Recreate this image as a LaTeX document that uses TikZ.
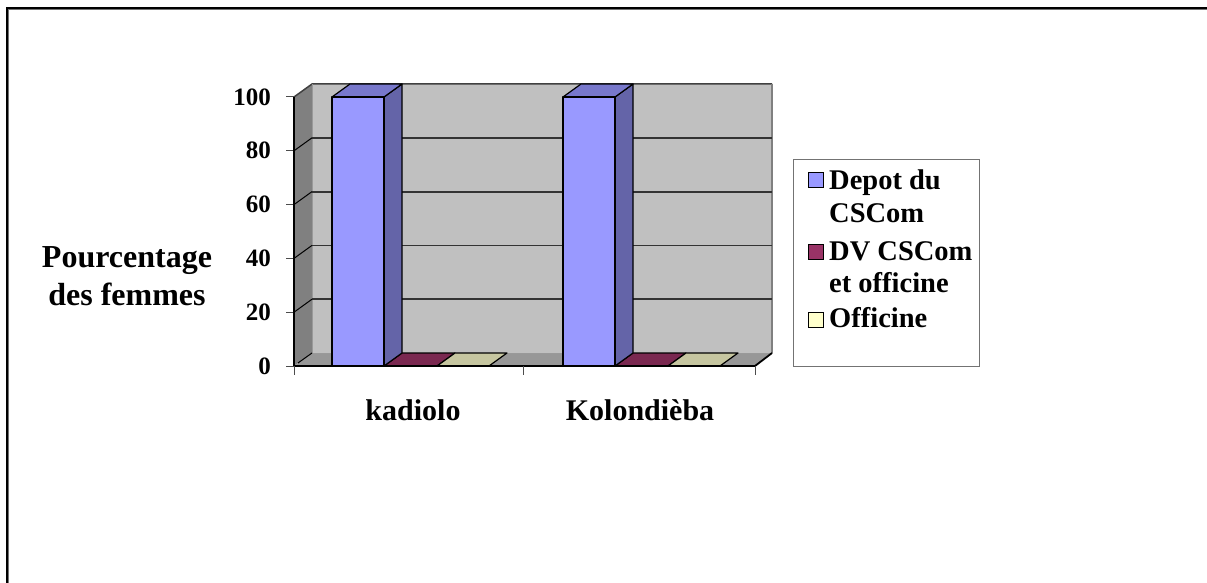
\documentclass[tikz,border=0pt]{standalone}
\usepackage{fontspec}
\setmainfont{Liberation Serif}
\begin{document}
\begin{tikzpicture}[x=1pt,y=-1pt,
  lbl/.style={font=\bfseries\fontsize{25}{28}\selectfont, inner sep=0pt},
  cat/.style={font=\bfseries\fontsize{30}{34}\selectfont, inner sep=0pt, anchor=base},
  ttl/.style={font=\bfseries\fontsize{32}{37}\selectfont, inner sep=0pt, anchor=base},
  leg/.style={font=\bfseries\fontsize{28.5}{33}\selectfont, inner sep=0pt, anchor=base west},
  grid/.style={draw=black!80, line width=1.8pt},
  bar/.style={draw=black, line width=1.2pt, line join=round},
  sq/.style={draw=black, line width=1pt, minimum size=15pt, inner sep=0pt}]
\definecolor{wallc}{HTML}{C0C0C0}
\definecolor{sidec}{HTML}{808080}
\definecolor{floorc}{HTML}{979797}
\definecolor{bfront}{HTML}{9999FF}
\definecolor{bside}{HTML}{6464A8}
\definecolor{btop}{HTML}{7878CC}
\definecolor{dvc}{HTML}{993366}
\definecolor{dvtop}{HTML}{7A2850}
\definecolor{ofc}{HTML}{FFFFCC}
\definecolor{oftop}{HTML}{C6C6A0}
\useasboundingbox (0,0) rectangle (1207,583);
\fill[white] (0,0) rectangle (1207,583);
% outer frame
\draw[line width=1.5pt, black!55] (8.5,600) -- (8.5,9.5) -- (1220,9.5);
\draw[line width=1.2pt, black] (7,600) -- (7,8) -- (1220,8);
% walls
\coordinate (FL0) at (294,366);
\coordinate (FL1) at (294,97);
\coordinate (BL0) at (312,353);
\coordinate (BL1) at (312,84);
\coordinate (BR0) at (772,353);
\coordinate (BR1) at (772,84);
\coordinate (FR0) at (755,366);
\fill[wallc] (BL0) rectangle (BR1);
\fill[sidec] (FL0) -- (FL1) -- (BL1) -- (BL0) -- cycle;
\fill[floorc] (FL0) -- (FR0) -- (BR0) -- (BL0) -- cycle;
\draw[black!75, line width=1.5pt] (FL1) -- (BL1) -- (BR1);
\draw[black!50, line width=1.2pt] (BR1) -- (BR0);
\draw[black!40, line width=1pt] (BL1) -- (BL0) -- (BR0);
% gridlines
\foreach \i in {1,...,4} {
  \pgfmathsetmacro{\yb}{353-\i*53.8}
  \pgfmathsetmacro{\yf}{366-\i*53.8}
  \draw[grid] (312,\yb) -- (772,\yb);
  \draw[black, line width=1pt] (294,\yf) -- (312,\yb);
  \draw[black!70, line width=1pt] (286,\yf) -- (294,\yf);
}
\draw[black!70, line width=1pt] (286,97) -- (294,97);
\draw[black!70, line width=1pt] (286,366) -- (294,366);
\draw[black, line width=1pt] (298,363) -- (312,353);
% bars
\foreach \x in {332,563} {
  \pgfmathsetmacro{\xa}{\x+52}
  \pgfmathsetmacro{\xb}{\x+70}
  \pgfmathsetmacro{\xc}{\x+18}
  \pgfmathsetmacro{\xd}{\x+105}
  \pgfmathsetmacro{\xe}{\x+123}
  \pgfmathsetmacro{\xf}{\x+157}
  \pgfmathsetmacro{\xg}{\x+175}
  \filldraw[bar, fill=dvtop] (\xa,366) -- (\xd,366) -- (\xe,353) -- (\xb,353) -- cycle;
  \filldraw[bar, fill=oftop] (\xd,366) -- (\xf,366) -- (\xg,353) -- (\xe,353) -- cycle;
  \filldraw[bar, fill=bside] (\xa,366) -- (\xb,353) -- (\xb,84) -- (\xa,97) -- cycle;
  \filldraw[bar, fill=btop] (\x,97) -- (\xc,84) -- (\xb,84) -- (\xa,97) -- cycle;
  \filldraw[bar, fill=bfront] (\x,366) rectangle (\xa,97);
}
% axes
\draw[black, line width=2pt] (FL1) -- (FL0);
\draw[black, line width=1.8pt] (FL0) -- (FR0) -- (BR0);
\foreach \x in {294,523,755} \draw[black!70, line width=1pt] (\x,366) -- (\x,375);
% tick labels
\foreach \v [count=\i from 0] in {0,20,40,60,80,100} {
  \pgfmathsetmacro{\yf}{366-\i*53.8}
  \node[lbl, anchor=east] (t\i) at (271,\yf) {\v};
}
\node[cat] (c1) at (413,420) {kadiolo};
\node[cat] (c2) at (640,420) {Kolondièba};
\node[ttl] (yt1) at (127,267) {Pourcentage};
\node[ttl] (yt2) at (127,305) {des femmes};
% legend
\draw[black!55, line width=1pt] (793,159) rectangle (979,366);
\node[sq, fill=bfront] (s1) at (816,180) {};
\node[sq, fill=dvc] (s2) at (816,252) {};
\node[sq, fill=ofc] (s3) at (816,320) {};
\node[leg] (l1a) at (829,189) {Depot du};
\node[leg] (l1b) at (829,222) {CSCom};
\node[leg] (l2a) at (829,260) {DV CSCom};
\node[leg] (l2b) at (829,292) {et officine};
\node[leg] (l3) at (829,327) {Officine};
\end{tikzpicture}
\end{document}
